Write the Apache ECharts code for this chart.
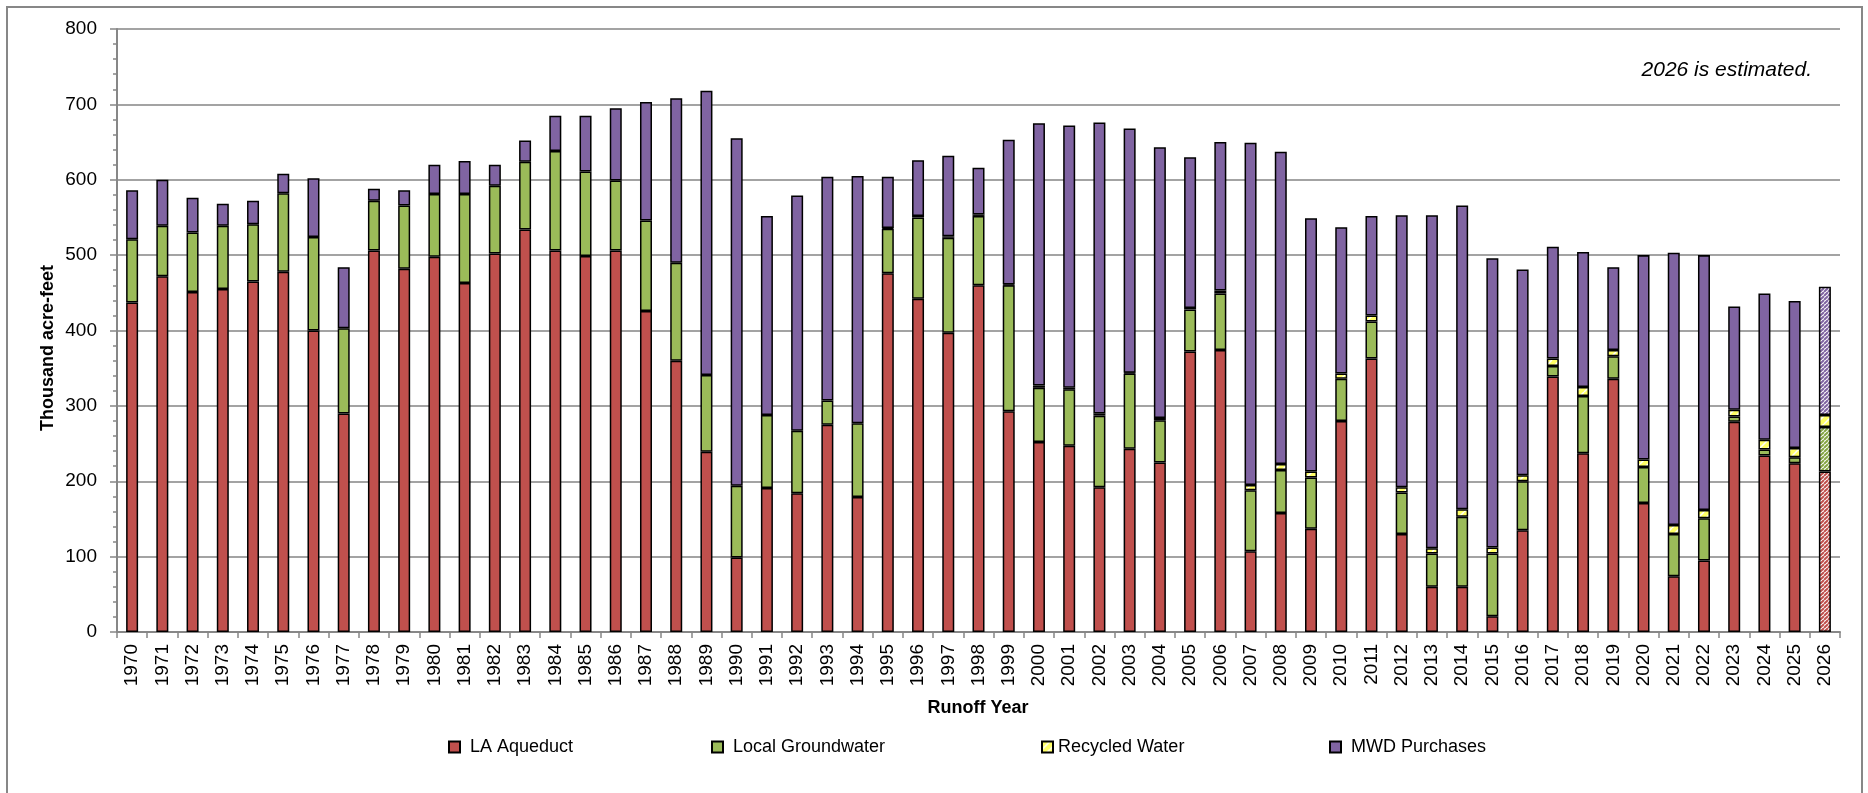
<!DOCTYPE html>
<html>
<head>
<meta charset="utf-8">
<script src="https://cdn.jsdelivr.net/npm/echarts@6/dist/echarts.min.js"></script>
<style>
html,body{margin:0;padding:0;background:#fff;}
#chart{width:1868px;height:793px;}
</style>
</head>
<body>
<div id="chart"></div>
<script>
// ---- Data (thousand acre-feet) ----
const years = ['1970','1971','1972','1973','1974','1975','1976','1977','1978','1979',
  '1980','1981','1982','1983','1984','1985','1986','1987','1988','1989',
  '1990','1991','1992','1993','1994','1995','1996','1997','1998','1999',
  '2000','2001','2002','2003','2004','2005','2006','2007','2008','2009',
  '2010','2011','2012','2013','2014','2015','2016','2017','2018','2019',
  '2020','2021','2022','2023','2024','2025','2026'];

const laAqueduct = [437,472,451,455,465,478,400,290,506,482,
  498,463,502,534,506,499,506,426,360,239,
  99,191,184,275,179,476,442,397,460,293,
  252,247,192,243,225,372,374,107,158,137,
  280,363,130,60,60,21,135,339,237,336,
  171,74,95,279,234,224,213];

const localGroundwater = [84,67,79,84,76,104,124,113,66,84,
  83,118,90,90,132,112,93,120,130,102,
  95,97,83,32,98,59,108,126,92,167,
  72,75,95,100,56,56,75,81,57,68,
  56,49,55,44,93,83,65,14,76,30,
  48,56,56,7,8,8,59];

const recycledWater = [0,0,0,0,0,0,0,0,0,0,
  0,0,0,0,0,0,0,0,0,0,
  0,0,0,0,0,1,2,2,2,1,
  3,2,3,1,3,2,4,7,8,8,
  7,8,7,7,10,8,8,10,12,8,
  10,12,11,9,13,12,16];

const mwdPurchases = [65,61,46,29,31,26,78,81,16,20,
  39,44,28,28,47,74,96,157,218,377,
  461,264,312,297,328,68,74,107,62,192,
  348,348,386,324,359,200,197,454,414,336,
  194,132,361,442,403,384,273,148,179,110,
  271,361,338,137,194,195,170];

const estimatedYear = '2026';
const yMin = 0, yMax = 800, yInterval = 100;

// ---- Styling ----
const FONT = '"Liberation Sans", Arial, sans-serif';

function stripes(bg, fg, lw, p) {
  const c = document.createElement('canvas');
  c.width = p; c.height = p;
  const g = c.getContext('2d');
  g.fillStyle = bg; g.fillRect(0, 0, p, p);
  g.strokeStyle = fg; g.lineWidth = lw;
  g.beginPath();
  for (let k = -1; k <= 1; k++) { g.moveTo(k * p, p); g.lineTo(k * p + p, 0); }
  g.stroke();
  return { image: c, repeat: 'repeat' };
}

const defs = [
  { name: 'LA Aqueduct', data: laAqueduct, fill: '#C0504D', est: stripes('#ffffff', '#C0504D', 2, 4) },
  { name: 'Local Groundwater', data: localGroundwater, fill: '#9BBB59', est: stripes('#ffffff', '#86a645', 2, 4) },
  { name: 'Recycled Water', data: recycledWater, fill: stripes('#FFFF66', '#ffffff', 1.5, 8), est: stripes('#FFFF66', '#ffffff', 1.5, 8) },
  { name: 'MWD Purchases', data: mwdPurchases, fill: '#8064A2', est: stripes('#ffffff', '#8064A2', 2, 4) }
];
const legendX = [448, 711, 1041, 1329];

const series = defs.map(d => ({
  name: d.name,
  type: 'bar',
  stack: 'total',
  barWidth: 12,
  itemStyle: { color: d.fill, borderColor: '#000', borderWidth: 1.5 },
  emphasis: { disabled: true },
  data: d.data.map((v, i) => {
    if (!v) return '-';
    if (years[i] === estimatedYear) return { value: v, itemStyle: { color: d.est } };
    return v;
  })
}));

const chart = echarts.init(document.getElementById('chart'), null, { renderer: 'canvas' });
chart.setOption({
  backgroundColor: '#ffffff',
  animation: false,
  grid: { left: 117, right: 28, top: 29, bottom: 161, containLabel: false },
  xAxis: {
    type: 'category',
    data: years,
    boundaryGap: true,
    axisLine: { show: true, lineStyle: { color: '#878787', width: 2 } },
    axisTick: { show: true, alignWithLabel: false, interval: 0, length: 6, lineStyle: { color: '#878787', width: 1.5 } },
    axisLabel: { rotate: 90, interval: 0, margin: 12, fontSize: 19, fontFamily: FONT, color: '#000' }
  },
  yAxis: {
    type: 'value',
    min: yMin, max: yMax, interval: yInterval,
    axisLine: { show: true, lineStyle: { color: '#878787', width: 2 } },
    axisTick: { show: true, length: 7, lineStyle: { color: '#878787', width: 1.5 } },
    minorTick: { show: true, splitNumber: 5, length: 4, lineStyle: { color: '#878787', width: 1.5 } },
    axisLabel: { margin: 20, fontSize: 19, fontFamily: FONT, color: '#000' },
    splitLine: { show: true, lineStyle: { color: '#a3a3a3', width: 2 } }
  },
  legend: defs.map((d, i) => ({
    data: [d.name],
    left: legendX[i],
    top: 737,
    padding: 0,
    icon: 'rect',
    itemWidth: 11,
    itemHeight: 11,
    selectedMode: false,
    textStyle: { fontSize: 18, fontFamily: FONT, color: '#000', lineHeight: 20, padding: i === 2 ? [0, 0, 0, 0] : [0, 0, 0, 5] }
  })),
  graphic: [
    { type: 'rect', shape: { x: 7, y: 7, width: 1855, height: 800 }, style: { fill: 'none', stroke: '#878787', lineWidth: 2 }, silent: true },
    { type: 'text', x: 48, y: 348, rotation: Math.PI / 2,
      style: { text: 'Thousand acre-feet', font: 'bold 18px ' + FONT, fill: '#000', textAlign: 'center', textVerticalAlign: 'middle' } },
    { type: 'text', x: 978, y: 708,
      style: { text: 'Runoff Year', font: 'bold 18px ' + FONT, fill: '#000', textAlign: 'center', textVerticalAlign: 'middle' } },
    { type: 'text', x: 1812, y: 70,
      style: { text: '2026 is estimated.', font: 'italic 21px ' + FONT, fill: '#000', textAlign: 'right', textVerticalAlign: 'middle' } }
  ],
  series: series
});
</script>
</body>
</html>
